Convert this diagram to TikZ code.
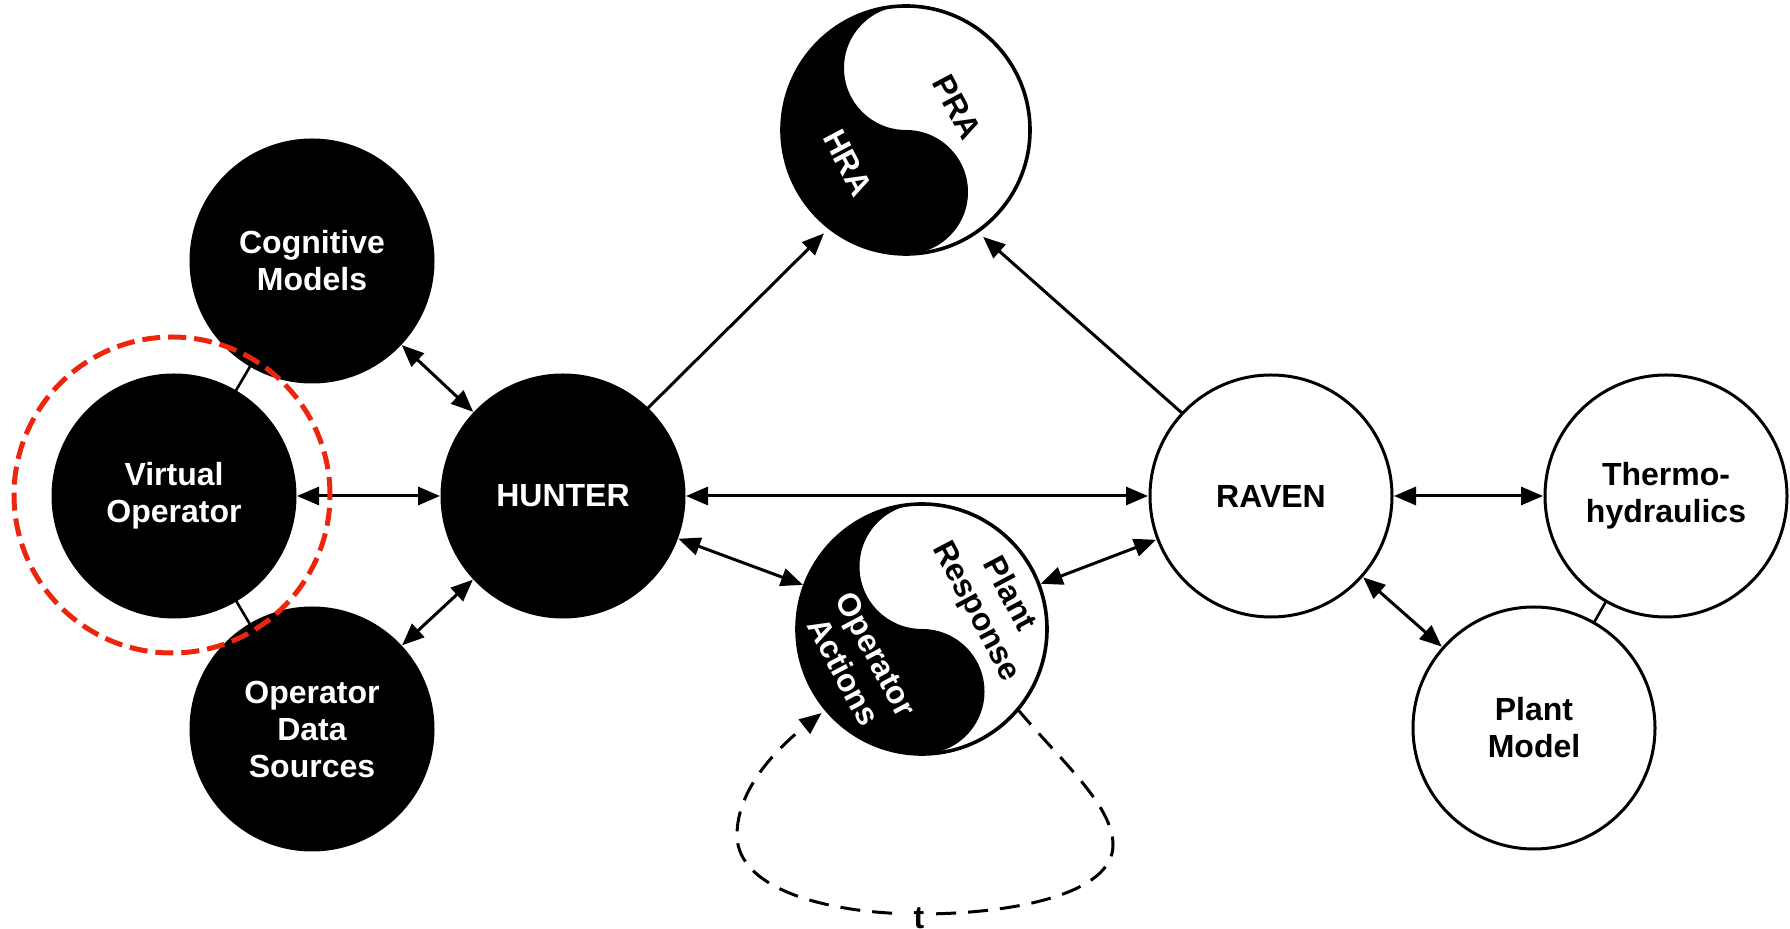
\documentclass[tikz,border=0pt]{standalone}
\usepackage{fontspec}
\setmainfont{Liberation Sans}
\usetikzlibrary{arrows.meta}
\definecolor{ringred}{RGB}{235,38,12}
\begin{document}
\begin{tikzpicture}[x=0.5pt,y=-0.5pt,
  lblfont/.style={font=\bfseries\fontsize{16}{18.5}\selectfont},
  bc/.style={circle, fill=black, draw=black, line width=1.5pt, minimum size=121pt, inner sep=0pt, outer sep=0pt, text=white, lblfont, align=center},
  wc/.style={circle, fill=white, draw=black, line width=1.5pt, minimum size=121pt, inner sep=0pt, outer sep=0pt, lblfont, align=center},
  yy/.style={circle, inner sep=0pt, outer sep=0pt},
  lbl/.style={lblfont, align=center, rotate=-62, inner sep=0pt},
  tip/.tip={Triangle[length=11pt,width=9pt]},
  dbl/.style={line width=1.5pt, tip-tip, shorten <=1pt, shorten >=1pt},
  sgl/.style={line width=1.5pt, -tip, shorten >=4pt},
  plain/.style={line width=1.3pt},
  loopline/.style={line width=1.5pt, dash pattern=on 10pt off 6pt, -tip, shorten >=3pt},
  ring/.style={circle, draw=ringred, line width=2.5pt, dash pattern=on 9pt off 4pt, minimum size=158pt, inner sep=0pt}
]
\useasboundingbox (0,0) rectangle (1790,929);

% yin-yang nodes (anchors)
\node[yy, minimum size=124pt] (pra) at (906,130) {};
\node[yy, minimum size=125pt] (pr) at (922,629) {};

\begin{scope}[shift={(pra.center)}, x=1pt, y=1pt]
  \fill[white] (0,0) circle[radius=62];
  \fill[black] (0,62) arc[start angle=90, end angle=270, radius=62]
     arc[start angle=-90, end angle=90, radius=31]
     arc[start angle=-90, end angle=-270, radius=31] -- cycle;
  \draw[line width=1.8pt] (0,0) circle[radius=62];
\end{scope}
\begin{scope}[shift={(pr.center)}, x=1pt, y=1pt]
  \fill[white] (0,0) circle[radius=62.5];
  \fill[black] (0,62.5) arc[start angle=90, end angle=270, radius=62.5]
     arc[start angle=-90, end angle=90, radius=31.25]
     arc[start angle=-90, end angle=-270, radius=31.25] -- cycle;
  \draw[line width=1.8pt] (0,0) circle[radius=62.5];
\end{scope}

\node[lbl, text=white] (hraL) at ([shift={(-58,33)}]pra.center) {HRA};
\node[lbl] (praL) at ([shift={(51,-23)}]pra.center) {PRA};
\node[lbl] (prL) at ([shift={(70,-26)}]pr.center) {Plant\\Response};
\node[lbl, text=white] (oaL) at ([shift={(-62,34)}]pr.center) {Operator\\Actions};

% circles
\node[bc] (cog) at (312,261) {Cognitive\\Models};
\node[bc] (vo) at (174,496) {Virtual\\Operator};
\node[bc] (ods) at (312,729) {Operator\\Data\\Sources};
\node[bc] (hunter) at (563,496) {HUNTER};
\node[wc] (raven) at (1271,496) {RAVEN};
\node[wc] (thermo) at (1666,496) {Thermo-\\hydraulics};
\node[wc] (pm) at (1534,728) {Plant\\Model};

% connectors
\draw[plain] (vo) -- (cog);
\draw[plain] (vo) -- (ods);
\draw[plain] (thermo) -- (pm);
\draw[dbl] (cog) -- (hunter);
\draw[dbl] (vo) -- (hunter);
\draw[dbl] (ods) -- (hunter);
\draw[dbl] (hunter) -- (raven);
\draw[dbl] (hunter) -- (pr);
\draw[dbl] (raven) -- (pr);
\draw[dbl] (raven) -- (thermo);
\draw[dbl] (raven) -- (pm);
\draw[sgl] (hunter.46) -- (pra.232);
\draw[sgl] (raven.137) -- (pra.305);

% feedback loop
\draw[loopline] (pr.-40) .. controls (1060,760) and (1113,805) .. (1113,845)
  .. controls (1113,895) and (1010,914) .. (920,914)
  .. controls (830,914) and (737,890) .. (737,835)
  .. controls (737,790) and (775,750) .. (pr.220);
\node[lblfont, fill=white, inner ysep=2pt, inner xsep=6pt, anchor=base] (tlbl) at (919,929) {t};

% highlight ring
\node[ring] (vring) at (172,495) {};
\end{tikzpicture}
\end{document}
